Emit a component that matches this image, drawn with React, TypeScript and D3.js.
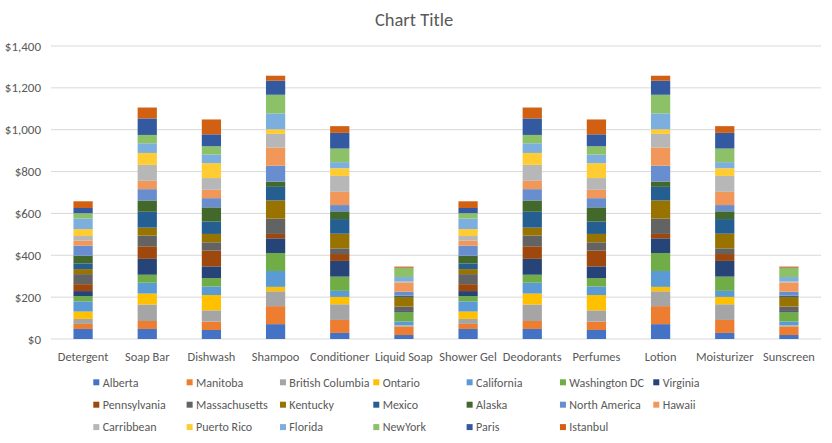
import React from "react";
import * as d3 from "d3";

const categories = ["Detergent", "Soap Bar", "Dishwash", "Shampoo", "Conditioner", "Liquid Soap", "Shower Gel", "Deodorants", "Perfumes", "Lotion", "Moisturizer", "Sunscreen"];

const seriesNames = ["Alberta", "Manitoba", "British Columbia", "Ontario", "California", "Washington DC", "Virginia", "Pennsylvania", "Massachusetts", "Kentucky", "Mexico", "Alaska", "North America", "Hawaii", "Carribbean", "Puerto Rico", "Florida", "NewYork", "Paris", "Istanbul"];

const colors = ["#4472C4", "#ED7D31", "#A5A5A5", "#FFC000", "#5B9BD5", "#70AD47", "#264478", "#9E480E", "#636363", "#997300", "#255E91", "#43682B", "#698ED0", "#F1975A", "#B7B7B7", "#FFCD33", "#7CAFDD", "#8CC168", "#335AA1", "#D26012"];

// values per category, in series order
const detergent = [48, 24, 24, 35, 49, 25, 24, 33, 48, 24, 27, 37, 48, 24, 22, 33, 51, 25, 25, 32];
const soapBar = [48, 38, 79, 52, 52, 38, 76, 60, 51, 38, 76, 54, 54, 40, 76, 57, 46, 40, 79, 52];
const dishwash = [43, 40, 54, 73, 41, 40, 56, 75, 40, 40, 59, 68, 44, 40, 56, 71, 41, 40, 57, 71];
const shampoo = [71, 86, 71, 21, 76, 86, 70, 21, 73, 87, 65, 25, 76, 87, 65, 22, 76, 89, 67, 24];
const conditioner = [29, 62, 75, 35, 29, 68, 75, 33, 27, 70, 70, 37, 30, 63, 76, 37, 29, 65, 75, 32];
const liquidSoap = [19, 41, 4, 1, 19, 44, 5, 1, 21, 46, 5, 1, 19, 44, 3, 1, 22, 43, 2, 5];
const showerGel = [48, 24, 24, 35, 49, 25, 24, 33, 48, 24, 27, 37, 48, 24, 22, 33, 51, 25, 25, 32];
const deodorants = [48, 38, 79, 52, 52, 38, 76, 60, 51, 38, 76, 54, 54, 40, 76, 57, 46, 40, 79, 52];
const perfumes = [43, 40, 54, 73, 41, 40, 56, 75, 40, 40, 59, 68, 44, 40, 56, 71, 41, 40, 57, 71];
const lotion = [71, 86, 71, 21, 76, 86, 70, 21, 73, 87, 65, 25, 76, 87, 65, 22, 76, 89, 67, 24];
const moisturizer = [29, 62, 75, 35, 29, 68, 75, 33, 27, 70, 70, 37, 30, 63, 76, 37, 29, 65, 75, 32];
const sunscreen = [19, 41, 4, 1, 19, 44, 5, 1, 21, 46, 5, 1, 19, 44, 3, 1, 22, 43, 2, 5];

const yTicks = [0, 200, 400, 600, 800, 1000, 1200, 1400];

const W = 832;
const H = 443;
const FONT = "Calibri, Carlito, 'Liberation Sans', Arial, sans-serif";
const TXT = "#595959";

export default function App() {
  const rows = [detergent, soapBar, dishwash, shampoo, conditioner, liquidSoap, showerGel, deodorants, perfumes, lotion, moisturizer, sunscreen];
  const table = categories.map((c, i) => {
    const o: any = { cat: c };
    seriesNames.forEach((s, j) => (o[s] = rows[i][j]));
    return o;
  });
  const stacked = d3.stack<any>().keys(seriesNames)(table);

  const x = d3.scaleBand<string>().domain(categories).range([51, 821]).paddingInner(0.7).paddingOuter(0.35);
  const y = d3.scaleLinear().domain([0, 1400]).range([339, 46]);
  const fmt = (v: number) => "$" + d3.format(",")(v);

  const legendX0 = 93.3;
  const legendDX = 93.33;
  const legendY0 = 382.3;
  const legendDY = 22.4;

  return (
    <svg width={W} height={H} style={{ position: "absolute", left: 0, top: 0, background: "#fff" }} fontFamily={FONT}>
      <rect x={0} y={0} width={W} height={H} fill="#fff" />
      <text x={414} y={26} textAnchor="middle" fontSize={18.5} fill={TXT}>Chart Title</text>
      {yTicks.map((t) => (
        <g key={t}>
          <line x1={51} x2={821} y1={y(t)} y2={y(t)} stroke="#D9D9D9" strokeWidth={1} />
          <text x={41} y={y(t) + 4.5} textAnchor="end" fontSize={13} fill={TXT}>{fmt(t)}</text>
        </g>
      ))}
      {stacked.map((s, j) => (
        <g key={s.key} fill={colors[j]}>
          {s.map((d, i) => (
            <rect key={i} x={x(categories[i])} width={x.bandwidth()} y={y(d[1])} height={Math.max(0, y(d[0]) - y(d[1]))} />
          ))}
        </g>
      ))}
      {categories.map((c) => (
        <text key={c} x={(x(c) as number) + x.bandwidth() / 2} y={361} textAnchor="middle" fontSize={12.4} fill={TXT}>{c}</text>
      ))}
      {seriesNames.map((s, j) => {
        const col = j % 7;
        const row = Math.floor(j / 7);
        const lx = legendX0 + col * legendDX;
        const ly = legendY0 + row * legendDY;
        return (
          <g key={s}>
            <rect x={lx} y={ly - 3} width={6} height={6} fill={colors[j]} />
            <text x={lx + 9.4} y={ly + 4.2} fontSize={12} fill={TXT}>{s}</text>
          </g>
        );
      })}
    </svg>
  );
}
